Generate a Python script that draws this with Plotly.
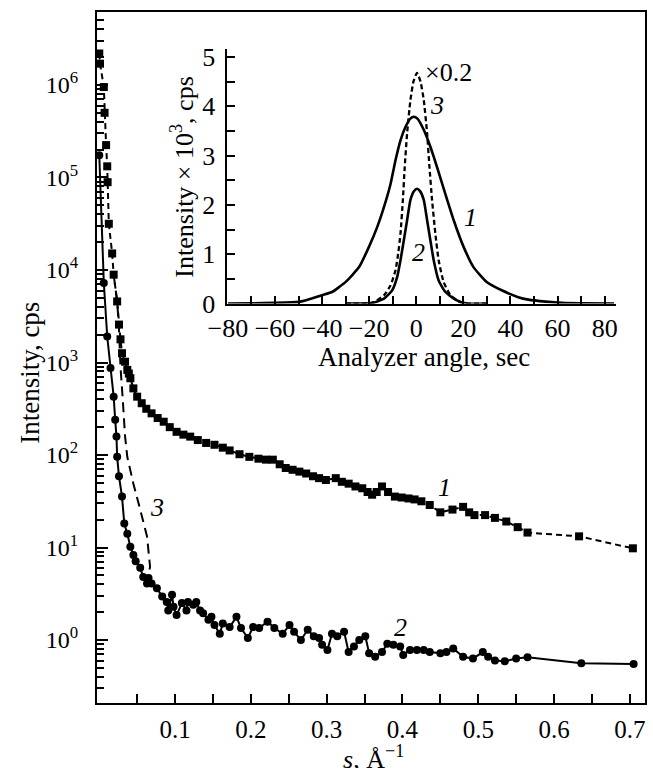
import plotly.graph_objects as go

# ---------------- main plot data ----------------
# curve 1 (squares, dashed line)
s1 = [0.000, 0.001, 0.006, 0.007, 0.009, 0.0105, 0.011, 0.0126, 0.017, 0.019, 0.0236, 0.026,
      0.028, 0.030, 0.034, 0.037, 0.039, 0.041, 0.045, 0.050, 0.056, 0.062, 0.069, 0.077,
      0.085, 0.093, 0.102, 0.111, 0.120, 0.130, 0.141, 0.152, 0.163, 0.172, 0.185, 0.198,
      0.210, 0.220, 0.229, 0.238, 0.246, 0.255, 0.264, 0.273, 0.282, 0.290, 0.299, 0.312,
      0.320, 0.329, 0.338, 0.347, 0.354, 0.360, 0.366, 0.373, 0.381, 0.390, 0.399, 0.408,
      0.416, 0.425, 0.436, 0.450, 0.466, 0.480, 0.488, 0.495, 0.509, 0.522, 0.537, 0.552,
      0.565, 0.633, 0.704]
i1 = [2.19e6, 1.70e6, 9.5e5, 5.0e5, 2.24e5, 1.32e5, 8.9e4, 3.16e4, 1.51e4, 8.9e3, 4.57e3, 2.57e3,
      1.78e3, 1.26e3, 1.02e3, 832, 759, 676, 525, 427, 363, 316, 282, 251,
      229, 200, 178, 166, 158, 145, 135, 129, 120, 112, 102, 95.5,
      91.2, 89.1, 89.0, 79.4, 72.4, 69.2, 66.1, 63.1, 58.9, 56.2, 53.7, 56.2,
      51.3, 49.0, 45.7, 43.7, 39.8, 37.2, 39.8, 45.7, 39.8, 35.5, 34.7, 33.9,
      33.1, 31.6, 28.8, 24.0, 25.7, 27.5, 24.0, 22.4, 22.4, 20.9, 19.1, 16.6,
      14.5, 13.2, 9.8]

# curve 2 (circles, solid line)
s2 = [0.000, 0.006, 0.0105, 0.0148, 0.019, 0.021, 0.0227, 0.0236, 0.026, 0.030, 0.033, 0.037,
      0.041, 0.045, 0.048, 0.054, 0.058, 0.063, 0.065, 0.069, 0.076, 0.083, 0.089, 0.091,
      0.096, 0.098, 0.102, 0.109, 0.115, 0.117, 0.124, 0.128, 0.133, 0.137, 0.144, 0.148,
      0.152, 0.159, 0.163, 0.172, 0.181, 0.187, 0.196, 0.203, 0.211, 0.222, 0.231, 0.242,
      0.251, 0.257, 0.266, 0.275, 0.283, 0.290, 0.294, 0.301, 0.307, 0.314, 0.323, 0.329,
      0.336, 0.343, 0.351, 0.356, 0.364, 0.373, 0.380, 0.388, 0.397, 0.401, 0.410, 0.419,
      0.428, 0.436, 0.450, 0.458, 0.467, 0.480, 0.493, 0.506, 0.513, 0.522, 0.535, 0.550,
      0.565, 0.636, 0.705]
i2 = [1.74e5, 7240, 1905, 871, 427, 240, 158, 95.5, 58.9, 35.5, 18.2, 14.1,
      10.2, 8.32, 7.08, 6.03, 4.79, 4.07, 4.68, 4.07, 3.63, 2.95, 2.57, 2.09,
      3.09, 2.29, 1.86, 2.51, 2.09, 2.57, 2.40, 2.57, 2.09, 1.95, 1.66, 1.78,
      1.45, 1.17, 1.51, 1.38, 1.78, 1.35, 1.05, 1.38, 1.35, 1.58, 1.35, 1.17,
      1.45, 1.23, 1.00, 1.29, 1.10, 1.05, 0.89, 0.78, 1.17, 1.10, 1.23, 0.74,
      0.85, 1.00, 1.10, 0.72, 0.66, 0.74, 0.91, 0.89, 0.85, 0.69, 0.78, 0.78,
      0.78, 0.74, 0.72, 0.74, 0.81, 0.66, 0.63, 0.74, 0.66, 0.60, 0.59, 0.63,
      0.65, 0.56, 0.55]

# curve 3 (dashed, no markers)
s3 = [0.019, 0.0236, 0.026, 0.028, 0.031, 0.034, 0.037, 0.045, 0.054, 0.063, 0.067, 0.065]
i3 = [8.9e3, 4.57e3, 2.3e3, 890, 400, 160, 95, 49, 25.7, 13.2, 6.2, 5.2]

# ---------------- inset data ----------------
a1 = [-80, -70, -60, -50, -46.8, -40, -35.6, -30, -24.3, -20.1, -16.6, -13.7, -10.9, -8.8,
      -6.7, -4.6, -2.5, -1.1, 0.5, 3.2, 6.0, 8.8, 12.3, 15.9, 20.1, 24.3, 29.9, 36.3, 43.3,
      47.6, 55, 62, 70, 84]
r1 = [0.0, 0.005, 0.015, 0.035, 0.07, 0.17, 0.24, 0.44, 0.74, 1.15, 1.55, 1.96, 2.43, 2.91,
      3.31, 3.58, 3.75, 3.79, 3.75, 3.52, 3.18, 2.77, 2.23, 1.69, 1.15, 0.74, 0.44, 0.27, 0.13,
      0.08, 0.04, 0.015, 0.005, 0.0]

a2 = [-30, -25.7, -18.7, -13.7, -10.2, -8.1, -6.7, -5.3, -3.9, -2.5, -1.0, 0.3, 1.6, 3.2,
      4.6, 6.0, 7.4, 9.5, 12.3, 16.6, 21.5, 30]
r2 = [0.0, 0.0, 0.01, 0.10, 0.27, 0.54, 0.88, 1.28, 1.69, 2.10, 2.28, 2.33, 2.28, 2.10,
      1.69, 1.28, 0.88, 0.47, 0.24, 0.08, 0.0, 0.0]

a3 = [-30, -21, -18, -13.7, -10.9, -8.8, -7.7, -6.7, -5.7, -4.9, -3.9, -2.5, -1.2, 0.3,
      1.8, 3.2, 4.6, 5.6, 6.7, 8.1, 9.5, 11.6, 14.5, 18.7, 22, 30]
r3 = [0.0, 0.0, 0.03, 0.17, 0.37, 0.68, 1.01, 1.42, 2.10, 2.77, 3.45, 4.12, 4.50, 4.68,
      4.50, 4.12, 3.45, 2.77, 2.10, 1.42, 0.88, 0.44, 0.17, 0.03, 0.0, 0.0]

# ---------------- tick labels ----------------
x_tickvals = [0.1, 0.2, 0.3, 0.4, 0.5, 0.6, 0.7]
x_ticktext = ["0.1", "0.2", "0.3", "0.4", "0.5", "0.6", "0.7"]
x_minor = [0.05, 0.15, 0.25, 0.35, 0.45, 0.55, 0.65]
y_tickvals = [1, 10, 100, 1000, 1e4, 1e5, 1e6]
y_ticktext = ["10<sup>0</sup>", "10<sup>1</sup>", "10<sup>2</sup>", "10<sup>3</sup>",
              "10<sup>4</sup>", "10<sup>5</sup>", "10<sup>6</sup>"]
y_minor = [m * d for d in [0.1, 1, 10, 100, 1000, 1e4, 1e5, 1e6] for m in range(2, 10)]

ix_tickvals = [-80, -60, -40, -20, 0, 20, 40, 60, 80]
ix_minor = [-70, -50, -30, -10, 10, 30, 50, 70]
iy_tickvals = [0, 1, 2, 3, 4, 5]
iy_minor = [0.5, 1.5, 2.5, 3.5, 4.5]

FONT = "Liberation Serif"

fig = go.Figure()
fig.add_trace(go.Scatter(x=s3, y=i3, mode="lines",
                         line=dict(color="black", width=2, dash="10px,6px")))
fig.add_trace(go.Scatter(x=s1, y=i1, mode="lines+markers",
                         marker=dict(symbol="square", size=8, color="black"),
                         line=dict(color="black", width=2, dash="6px,4px")))
fig.add_trace(go.Scatter(x=s2, y=i2, mode="lines+markers",
                         marker=dict(symbol="circle", size=8, color="black"),
                         line=dict(color="black", width=2)))

fig.add_trace(go.Scatter(x=a1, y=r1, mode="lines", xaxis="x2", yaxis="y2",
                         line=dict(color="black", width=2.6, shape="spline", smoothing=0.5)))
fig.add_trace(go.Scatter(x=a2, y=r2, mode="lines", xaxis="x2", yaxis="y2",
                         line=dict(color="black", width=2.6, shape="spline", smoothing=0.5)))
fig.add_trace(go.Scatter(x=a3, y=r3, mode="lines", xaxis="x2", yaxis="y2",
                         line=dict(color="black", width=2.3, dash="5px,3px", shape="spline",
                                   smoothing=0.5)))

axis_common = dict(showgrid=False, zeroline=False, showline=True, linecolor="black",
                   linewidth=2, ticks="inside", tickcolor="black", tickwidth=2)

fig.update_layout(
    width=653, height=768,
    margin=dict(l=97, r=6, t=12, b=65, pad=0),
    paper_bgcolor="white", plot_bgcolor="rgba(0,0,0,0)",
    showlegend=False,
    font=dict(family=FONT, color="black", size=25),
    xaxis=dict(**axis_common, domain=[0, 1], range=[-0.003, 0.72], mirror=True,
               tickmode="array", tickvals=x_tickvals, ticktext=x_ticktext, ticklen=9,
               tickfont=dict(size=25), ticklabelstandoff=3,
               minor=dict(tickmode="array", tickvals=x_minor, ticks="inside", ticklen=9,
                          tickwidth=2, tickcolor="black")),
    yaxis=dict(**axis_common, type="log", domain=[0, 1], range=[-0.681, 6.789], mirror=True,
               tickmode="array", tickvals=y_tickvals, ticktext=y_ticktext, ticklen=11,
               tickfont=dict(size=24), ticklabelstandoff=12,
               minor=dict(tickmode="array", tickvals=y_minor, ticks="inside", ticklen=7,
                          tickwidth=1.5, tickcolor="black")),
    xaxis2=dict(**axis_common, domain=[0.238, 0.947], range=[-80.2, 84.8], anchor="y2",
                tickmode="array", tickvals=ix_tickvals, ticklen=8,
                tickfont=dict(size=26), ticklabelstandoff=0,
                minor=dict(tickmode="array", tickvals=ix_minor, ticks="inside", ticklen=8,
                           tickwidth=2, tickcolor="black")),
    yaxis2=dict(**axis_common, domain=[0.578, 0.947], range=[0, 5.17], anchor="x2",
                tickmode="array", tickvals=iy_tickvals, ticklen=8,
                tickfont=dict(size=26), ticklabelstandoff=5,
                minor=dict(tickmode="array", tickvals=iy_minor, ticks="inside", ticklen=8,
                           tickwidth=2, tickcolor="black")),
)

ann = []
def paper_text(text, x, y, size=27, angle=0):
    ann.append(dict(text=text, x=x, y=y, xref="paper", yref="paper", showarrow=False,
                    textangle=angle, font=dict(size=size, family=FONT, color="black"),
                    xanchor="center", yanchor="middle"))

paper_text("Intensity, cps", -0.122, 0.478, size=27, angle=-90)
paper_text("<i>s</i>, Å<sup>−1</sup>", 0.505, -0.079, size=26)
paper_text("Intensity × 10<sup>3</sup>, cps", 0.156, 0.761, size=26, angle=-90)
paper_text("Analyzer angle, sec", 0.596, 0.501, size=27)

def data_text(text, x, y, xr, yr, size=26):
    ann.append(dict(text=text, x=x, y=y, xref=xr, yref=yr, showarrow=False,
                    font=dict(size=size, family=FONT, color="black"),
                    xanchor="center", yanchor="middle"))

data_text("<i>1</i>", 0.456, 1.65, "x", "y")
data_text("<i>2</i>", 0.397, 0.13, "x", "y")
data_text("<i>3</i>", 0.076, 1.43, "x", "y")
data_text("×0.2", 13.7, 4.69, "x2", "y2", size=26)
data_text("<i>3</i>", 8.7, 4.02, "x2", "y2")
data_text("<i>1</i>", 23.0, 1.75, "x2", "y2")
data_text("<i>2</i>", 1.1, 1.04, "x2", "y2")

fig.update_layout(annotations=ann)
fig.write_html("out.html", config={"displayModeBar": False},
               post_script="document.body.style.margin='0px';document.body.style.overflow='hidden';")
